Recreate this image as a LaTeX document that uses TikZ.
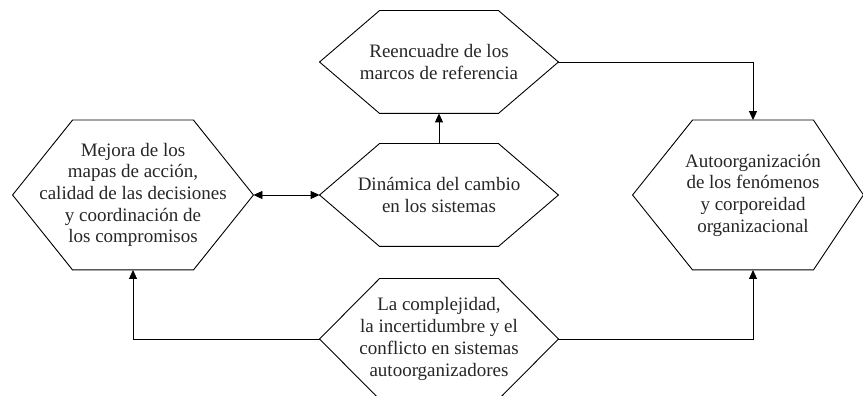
\documentclass[tikz,border=0pt]{standalone}
\usepackage{fontspec}
\setmainfont{Liberation Serif}
\usetikzlibrary{arrows.meta}

% hexagon round an (invisible) rectangular node; #1 pulls the east tip in
\newcommand{\hexbox}[2][0pt]{%
  \draw (#2.west) -- ([xshift=60pt]#2.north west) -- ([xshift=-60pt]#2.north east)
    -- ([xshift=-#1]#2.east) -- ([xshift=-60pt]#2.south east) -- ([xshift=60pt]#2.south west) -- cycle;}

\begin{document}
\begin{tikzpicture}[x=1pt,y=1pt,line width=0.9pt,
    head/.tip={Triangle[length=9pt,width=8pt]},
    hexa/.style={inner sep=0pt,align=center,font=\fontsize{19pt}{21.7pt}\selectfont,text=black!85},
    link/.style={-head}]
      \clip (0,0) rectangle (863,396);
      \node[hexa,minimum width=240pt,minimum height=149pt] (mejora) at (133,201) {Mejora de los\\mapas de acción,\\calidad de las decisiones\\y coordinación de\\los compromisos};
      \node[hexa,minimum width=238pt,minimum height=102pt] (reencuadre) at (439,334) {Reencuadre de los\\marcos de referencia};
      \node[hexa,minimum width=238pt,minimum height=102pt] (dinamica) at (439,201) {Dinámica del cambio\\en los sistemas};
      \node[hexa,minimum width=238pt,minimum height=120pt] (complejidad) at (439,57) {La complejidad,\\la incertidumbre y el\\conflicto en sistemas\\autoorganizadores};
      \node[hexa,minimum width=240pt,minimum height=149pt] (autoorg) at (753,201) {Autoorganización\\de los fenómenos\\y corporeidad\\organizacional};
      \hexbox{mejora} \hexbox{reencuadre} \hexbox{dinamica} \hexbox{complejidad} \hexbox[10pt]{autoorg}
      \draw[head-head] (mejora.east) -- (dinamica.west);
      \draw[link] (dinamica.north) -- (reencuadre.south);
      \draw[link] (reencuadre.east) -| (autoorg.north);
      \draw[link] (complejidad.west) -| (mejora.south);
      \draw[link] (complejidad.east) -| (autoorg.south);
    \end{tikzpicture}
\end{document}
